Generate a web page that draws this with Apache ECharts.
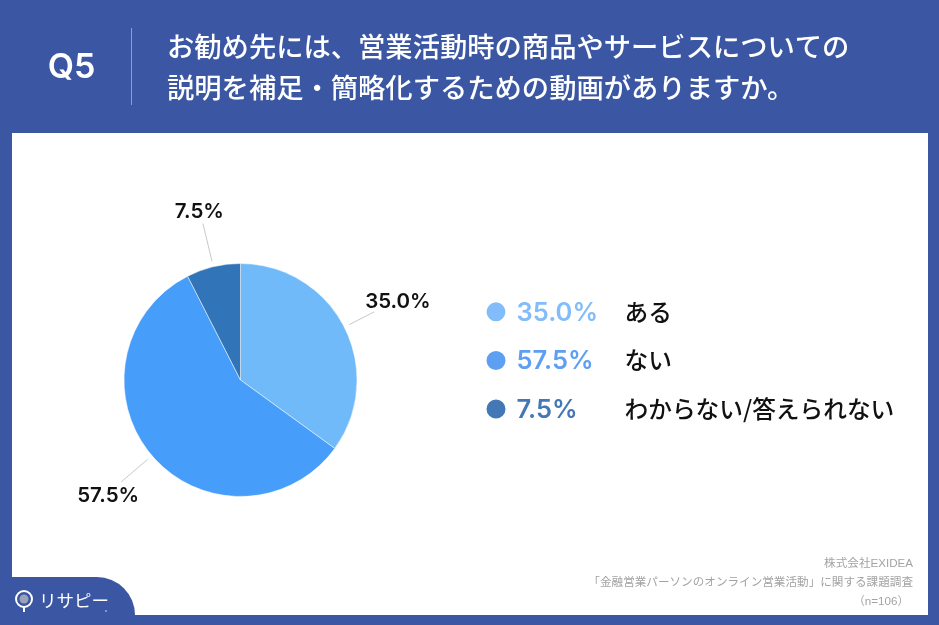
<!DOCTYPE html>
<html lang="ja">
<head>
<meta charset="utf-8">
<title>Q5</title>
<style>
  html, body { margin: 0; padding: 0; background: #3b57a3; }
  #chart { width: 939px; height: 625px; }
</style>
<script src="https://cdn.jsdelivr.net/npm/echarts@6/dist/echarts.min.js"></script>
</head>
<body>
<div id="chart"></div>
<script>
const categories = ['ある', 'ない', 'わからない/答えられない'];
const values = [35.0, 57.5, 7.5];
const sliceColors = ['#70bafa', '#479dfa', '#3274b8'];
const legendColors = ['#82bcfa', '#5c9ff3', '#4377b5'];
const questionNo = 'Q5';
const titleLines = [
  'お勧め先には、営業活動時の商品やサービスについての',
  '説明を補足・簡略化するための動画がありますか。'
];
const noteLines = [
  '株式会社EXIDEA',
  '「金融営業パーソンのオンライン営業活動」に関する課題調査',
  '（n=106）'
];
const logoText = 'リサピー';

// leader line length and label nudge for each slice
const lineLengths = [28, 35, 39];
const labelOffsets = [[-14, -10], [23, 14], [26, -12]];

const CJK = '"Noto Sans CJK JP", "Noto Sans", sans-serif';
const LATIN = 'Inter, "Noto Sans CJK JP", sans-serif';
const NOTE = '"Liberation Sans", "Noto Sans CJK JP", sans-serif';
const BLUE = '#3b57a3';
const CENTER = [240.5, 380];

const chart = echarts.init(document.getElementById('chart'), null, { renderer: 'canvas' });

// rich styles for the legend, one colour per category
const rich = { n: { fontFamily: CJK, fontSize: 23.7, fontWeight: 500, color: '#111' } };
categories.forEach((c, i) => {
  rich['p' + i] = {
    fontFamily: LATIN, fontSize: 25.5, fontWeight: 600, color: legendColors[i],
    width: 108, align: 'left', padding: [2, 0, 0, 5]
  };
});

const graphic = [
  { type: 'rect', z: -2, shape: { x: 12, y: 133, width: 916, height: 482 }, style: { fill: '#fff' } },
  { type: 'rect', z: -1, shape: { x: 0, y: 577, width: 135, height: 48, r: [0, 38, 0, 0] }, style: { fill: BLUE } },
  { type: 'line', shape: { x1: 131.5, y1: 28, x2: 131.5, y2: 105 }, style: { stroke: '#8d9fcc', lineWidth: 1 } },
  { type: 'text', x: 71.5, y: 68, style: { text: questionNo, fill: '#fff', font: '600 34px ' + LATIN, align: 'center', verticalAlign: 'middle' } },
  { type: 'text', x: 167, y: 47, style: { text: titleLines[0], fill: '#fff', font: '500 27.3px ' + CJK, verticalAlign: 'middle' } },
  { type: 'text', x: 167, y: 88, style: { text: titleLines[1], fill: '#fff', font: '500 27.3px ' + CJK, verticalAlign: 'middle' } },
  // logo
  { type: 'circle', shape: { cx: 24, cy: 599, r: 8 }, style: { fill: 'none', stroke: '#fff', lineWidth: 2 } },
  { type: 'circle', shape: { cx: 24, cy: 599, r: 4.5 }, style: { fill: '#9aa3b8' } },
  { type: 'line', shape: { x1: 24, y1: 607, x2: 24, y2: 612 }, style: { stroke: '#fff', lineWidth: 2 } },
  { type: 'text', x: 39, y: 600, style: { text: logoText, fill: '#fff', font: '400 17.5px ' + CJK, verticalAlign: 'middle' } },
  { type: 'circle', shape: { cx: 106, cy: 611, r: 1 }, style: { fill: '#9db0dc' } }
];
noteLines.forEach((t, i) => {
  graphic.push({
    type: 'text', x: i === 2 ? 909 : 913, y: 564 + i * 18.7,
    style: { text: t, fill: '#a3a3a3', font: '400 11.6px ' + NOTE, align: 'right', verticalAlign: 'middle' }
  });
});

chart.setOption({
  animation: false,
  backgroundColor: BLUE,
  graphic: graphic,
  legend: {
    orient: 'vertical',
    left: 484.5,
    top: 300,
    padding: 0,
    itemWidth: 21,
    itemHeight: 21,
    itemGap: 23,
    icon: 'circle',
    selectedMode: false,
    data: categories.map((c, i) => ({ name: c, itemStyle: { color: legendColors[i] } })),
    formatter: name => {
      const i = categories.indexOf(name);
      return `{p${i}|${values[i].toFixed(1)}%}{n|${name}}`;
    },
    textStyle: { rich: rich }
  },
  series: [
    {
      type: 'pie',
      center: CENTER,
      radius: [0, 116.5],
      startAngle: 90,
      silent: true,
      data: categories.map((c, i) => ({ name: c, value: values[i], itemStyle: { color: sliceColors[i] } })),
      itemStyle: { borderColor: '#fff', borderWidth: 0.5 },
      label: { show: false },
      labelLine: { show: false }
    },
    // transparent ring, so the leader lines start a few pixels off the pie
    {
      type: 'pie',
      center: CENTER,
      radius: [116.5, 122],
      startAngle: 90,
      silent: true,
      data: categories.map((c, i) => ({
        name: c,
        value: values[i],
        label: { offset: labelOffsets[i] },
        labelLine: { length: lineLengths[i] }
      })),
      itemStyle: { color: 'transparent' },
      label: {
        formatter: p => p.value.toFixed(1) + '%',
        fontFamily: LATIN,
        fontSize: 20.5,
        fontWeight: 600,
        color: '#111'
      },
      labelLine: { show: true, length2: 0, lineStyle: { color: '#c9c9c9', width: 1 } }
    }
  ]
});
</script>
</body>
</html>
